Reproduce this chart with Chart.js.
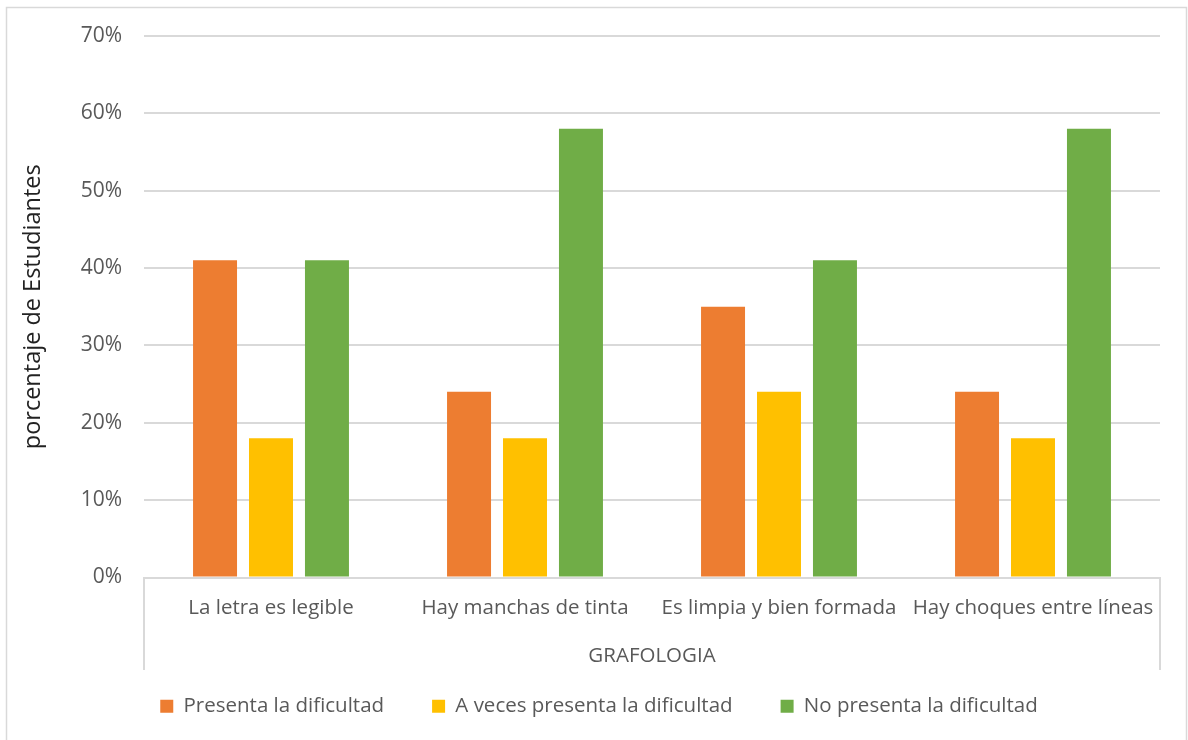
<!DOCTYPE html>
<html>
<head>
<meta charset="utf-8">
<script src="https://cdn.jsdelivr.net/npm/chart.js@4/dist/chart.umd.min.js"></script>
<style>
html,body{margin:0;padding:0;background:#fff;}
canvas{display:block;}
</style>
</head>
<body>
<canvas id="c" width="1188" height="740"></canvas>
<script>
const categories = ["La letra es legible", "Hay manchas de tinta", "Es limpia y bien formada", "Hay choques entre líneas"];
const groupLabel = "GRAFOLOGIA";
const seriesNames = ["Presenta la dificultad", "A veces presenta la dificultad", "No presenta la dificultad"];
const presenta = [41, 24, 35, 24];
const aVeces = [18, 18, 24, 18];
const noPresenta = [41, 58, 41, 58];
const yTicks = [0, 10, 20, 30, 40, 50, 60, 70];
const yTitle = "porcentaje de Estudiantes";

const FONT = "'Open Sans', Lato, sans-serif";
const TXT = "#595959";
const GRID = "#d9d9d9";

const decor = {
  id: 'decor',
  beforeDraw(chart) {
    const ctx = chart.ctx;
    ctx.save();
    ctx.strokeStyle = GRID;
    ctx.lineWidth = 1.5;
    ctx.strokeRect(6.5, 7.5, 1180, 800);
    ctx.restore();
  },
  afterLayout(chart) {
    const lg = chart.legend;
    if (lg) { lg.left += 19; lg.right += 19; }
  },
  afterDraw(chart) {
    const ctx = chart.ctx;
    const a = chart.chartArea;
    ctx.save();
    ctx.strokeStyle = GRID;
    ctx.lineWidth = 2;
    [a.left, a.right].forEach(x => {
      ctx.beginPath();
      ctx.moveTo(x, a.bottom);
      ctx.lineTo(x, 670);
      ctx.stroke();
    });
    ctx.restore();
  }
};

new Chart(document.getElementById('c'), {
  type: 'bar',
  data: {
    labels: categories,
    datasets: [
      { label: seriesNames[0], data: presenta, backgroundColor: '#ED7D31' },
      { label: seriesNames[1], data: aVeces, backgroundColor: '#FFC000' },
      { label: seriesNames[2], data: noPresenta, backgroundColor: '#70AD47' }
    ]
  },
  options: {
    responsive: false,
    animation: false,
    devicePixelRatio: 1,
    datasets: { bar: { barPercentage: 0.786, categoryPercentage: 0.661 } },
    layout: { padding: { left: 0, right: 28, top: 36, bottom: 13.5 } },
    plugins: {
      legend: {
        position: 'bottom',
        labels: {
          color: TXT,
          font: { family: FONT, size: 20.5 },
          boxWidth: 13,
          boxHeight: 13,
          padding: 48
        }
      },
      tooltip: { enabled: false }
    },
    scales: {
      x: {
        grid: { display: false, drawTicks: false },
        border: { display: true, color: GRID, width: 2 },
        ticks: { color: TXT, font: { family: FONT, size: 20.5 }, padding: 18, maxRotation: 0, autoSkip: false },
        title: { display: true, text: groupLabel, color: TXT, font: { family: FONT, size: 20.5 }, padding: { top: 0, bottom: -20 } },
        afterFit(s) { s.height = 70.5; }
      },
      y: {
        min: 0, max: 70,
        afterBuildTicks(s) { s.ticks = yTicks.map(v => ({ value: v })); },
        grid: { color: GRID, lineWidth: 2, drawTicks: false },
        border: { display: false },
        ticks: { color: TXT, font: { family: FONT, size: 21 }, padding: 22, callback: v => v + '%' },
        title: { display: true, text: yTitle, color: '#222', font: { family: FONT, size: 23.5 }, padding: { top: 19, bottom: 0 } },
        afterFit(s) { s.width = 144; }
      }
    }
  },
  plugins: [decor]
});
</script>
</body>
</html>
